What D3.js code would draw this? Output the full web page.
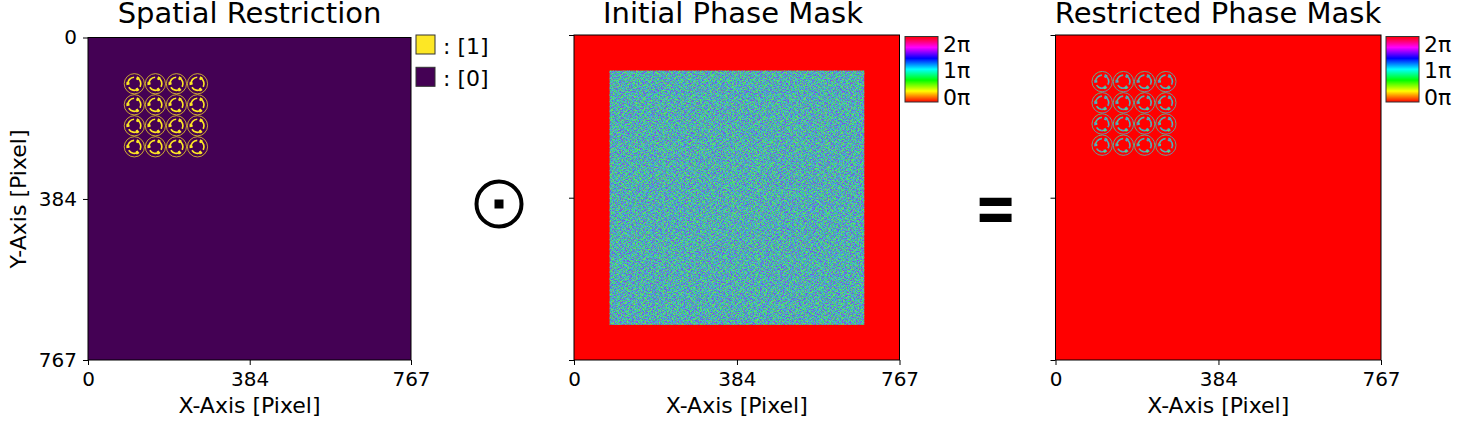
<!DOCTYPE html>
<html>
<head>
<meta charset="utf-8">
<script src="https://cdn.jsdelivr.net/npm/d3@7"></script>
<style>
  html, body { margin: 0; padding: 0; background: #fff; }
  svg { display: block; }
  text { font-family: "DejaVu Sans", sans-serif; fill: #000; }
</style>
</head>
<body>
<div id="chart"></div>
<script>
// axis ticks and labels
var tickValues = [0, 384, 767];
var titles = ["Spatial Restriction", "Initial Phase Mask", "Restricted Phase Mask"];
var legendLabels = [": [1]", ": [0]"];
var legendColors = ["#fde725", "#440154"];
var phaseLabels = ["2π", "1π", "0π"];
var phaseTicks = [6.28, 3.14, 0];

// hsv colormap stops, phase in radians
var phaseStops = [0, 1.05, 2.09, 3.14, 4.19, 5.24, 6.28];
var phaseColors = ["#ff0000", "#ffff00", "#00ff00", "#00ffff", "#0000ff", "#ff00ff", "#ff0000"];

// circle centres of the restriction, in mask pixels
var cellX = [110, 160, 210, 260];
var cellY = [110, 160, 210, 260];
var ringInner = 23;
var ringOuter = 25;

// the three curved arms in one circle (angles in degrees, clockwise from top)
var armStart = [25, 265, 145];
var armEnd = [118, 358, 238];
var armInner = [13.5, 13.5, 13.5];
var armOuter = [17.5, 17.5, 17.5];
var headStart = [20, 260, 140];
var headEnd = [44, 284, 164];
var headInner = [11.5, 11.5, 11.5];
var headOuter = [19, 19, 19];

// area of the mask holding the random phase, in mask pixels
var noiseRange = [84, 684];

// averaged colour of one screen pixel of the phase noise
var noisePalette = ["#3dd29a", "#45c8c0", "#4aa8d8", "#5a6fe0", "#8a55e0", "#3fdc6a", "#6be05a", "#4a9ce0", "#5ab8a0", "#45c090"];
// small swatch of the noise, each digit is one entry of noisePalette
var noiseTile = [
  "05539120774185530296417038865192",
  "31708846250193672251809943607415",
  "97220631584407719386025518324760",
  "40866193725530148047962631159028",
  "15392708016682943175308820476559",
  "78014453962217056894431567020383",
  "26659830147735281109675293846104",
  "53107246898160449322718054936677",
  "09942715360574816653290147288315",
  "64381059227793100468835726551940",
  "12576384049925637011294583370868",
  "88230961755014482736116049952307",
  "37495026183367095548820713649152",
  "50716842933106274419563278810445",
  "29164507788945312060347195526683",
  "76083319540627856613092884417250",
  "41957260116830495287751306629134",
  "03628794251174063395518640272986",
  "95310478662349127008464759133520",
  "68742105397720566934102885641037",
  "14089637525118873046259370986245",
  "32565081947643201579987412035668",
  "80917354216086432725130694758191",
  "47236916088375919460642318506027",
  "25601743395240167883794506129364",
  "91478025639962540318025177463850",
  "06351892147706285449316620958773",
  "73824569010437918260587943321146",
  "58190236774891343605169027640829",
  "19643307582560729174438256917035",
  "42975681306124085937012764583198",
  "60328417950379641825566031297474"
];
// second, sparser swatch laid over the first so that the repeat does not show
var noiseOverlay = [
  "7..3.9...4..72..3...8.4",
  "..5...2.7...9..6.3.....",
  ".4..8....3.5.....7..2.9",
  "3...6.7....1..4.9...5..",
  "..9.....2.8..6...3.7..4",
  "6..4.3...7....5.2....8.",
  "..7..5.9..3.4...8.3...6",
  ".2....4...6...9.....7..",
  "8..3.7...5..2.3..4...9.",
  "...9...6.3.8...7...1..5",
  ".7.2..4.....3.6.9..4...",
  "5....8..7.9...2...6..3.",
  "..3.6...4...7..5.9...7.",
  "9...2.5...3.6....3.8..4",
  ".4.7....9..2..8.....6..",
  "..8..3.6..7...4.2.9...3",
  "6...5...3....9...7..4..",
  ".3.9..7...4.5..3...6..8",
  "7...4....8.3..6.9.2....",
  "..2..6.3...7.....4..7.5",
  "4.7....9.5..3.8...3....",
  "...8.3..4...9..7.5..6.9",
  ".6..2...7.3...4....9..3"
];

// chart set up
var width = 1463;
var height = 430;
var fontSize = 20;
var labelSize = 22;

// screen position of each image
var panels = [
  { left: 88, right: 411, top: 37.5, bottom: 360, titleX: 249.5 },
  { left: 574, right: 899.5, top: 35, bottom: 360, titleX: 733 },
  { left: 1055.5, right: 1381, top: 35, bottom: 360, titleX: 1218 }
];

var svg = d3
  .select("#chart")
  .append("svg")
  .attr("width", width)
  .attr("height", height);

var defs = svg.append("defs");

// repeating swatch used for the noise square and the restricted shapes
function addTile(id, rows) {
  var size = rows.length;
  var pattern = defs
    .append("pattern")
    .attr("id", id)
    .attr("patternUnits", "userSpaceOnUse")
    .attr("width", size)
    .attr("height", size);
  rows.forEach(function(row, r) {
    row.split("").forEach(function(digit, c) {
      if (digit === ".") return;
      pattern
        .append("rect")
        .attr("x", c)
        .attr("y", r)
        .attr("width", 1)
        .attr("height", 1)
        .attr("shape-rendering", "crispEdges")
        .attr("fill", noisePalette[+digit]);
    });
  });
}
addTile("noise", noiseTile);
addTile("noiseTop", noiseOverlay);

// colorbar gradient from the phase stops
var phaseScale = d3.scaleLinear().domain(phaseStops).range(phaseColors);
var gradient = defs
  .append("linearGradient")
  .attr("id", "phaseBar")
  .attr("x1", 0)
  .attr("y1", 1)
  .attr("x2", 0)
  .attr("y2", 0);
phaseStops.forEach(function(p) {
  gradient
    .append("stop")
    .attr("offset", p / 6.28)
    .attr("stop-color", phaseScale(p));
});

var arc = d3.arc();

// draws the circles with their arms, filled with the given paint
function drawCells(g, xScale, yScale, paint, ringOpacity) {
  var length = d3.scaleLinear().domain([0, 767]).range([0, xScale(767) - xScale(0)]);
  cellY.forEach(function(cy) {
    cellX.forEach(function(cx) {
      var cell = g
        .append("g")
        .attr("transform", "translate(" + xScale(cx) + "," + yScale(cy) + ")")
        .attr("fill", paint);
      cell
        .append("circle")
        .attr("r", length((ringInner + ringOuter) / 2))
        .attr("fill", "none")
        .attr("stroke", paint)
        .attr("stroke-opacity", ringOpacity)
        .attr("stroke-width", length(ringOuter - ringInner));
      armStart.forEach(function(a, i) {
        cell.append("path").attr("d", arc({
          innerRadius: length(armInner[i]),
          outerRadius: length(armOuter[i]),
          startAngle: a * Math.PI / 180,
          endAngle: armEnd[i] * Math.PI / 180
        }));
        cell.append("path").attr("d", arc({
          innerRadius: length(headInner[i]),
          outerRadius: length(headOuter[i]),
          startAngle: headStart[i] * Math.PI / 180,
          endAngle: headEnd[i] * Math.PI / 180
        }));
      });
    });
  });
}

// a colorbar with its three phase labels
function drawColorbar(x0) {
  var barY = d3.scaleLinear().domain([0, 6.28]).range([102, 36.5]);
  svg
    .append("rect")
    .attr("x", x0)
    .attr("y", barY(6.28))
    .attr("width", 33)
    .attr("height", barY(0) - barY(6.28))
    .attr("fill", "url(#phaseBar)")
    .attr("stroke", "#333")
    .attr("stroke-width", 1);
  var labelY = d3.scaleLinear().domain([0, 6.28]).range([97, 44]);
  phaseLabels.forEach(function(label, i) {
    svg
      .append("text")
      .attr("x", x0 + 38)
      .attr("y", labelY(phaseTicks[i]))
      .attr("dy", "0.36em")
      .attr("font-size", labelSize + "px")
      .text(label);
  });
}

panels.forEach(function(p, i) {
  var xScale = d3.scaleLinear().domain([0, 767]).range([p.left, p.right]);
  var yScale = d3.scaleLinear().domain([0, 767]).range([p.top, p.bottom]);
  var g = svg.append("g");

  // the image itself
  g.append("rect")
    .attr("x", p.left)
    .attr("y", p.top)
    .attr("width", p.right - p.left)
    .attr("height", p.bottom - p.top)
    .attr("fill", i === 0 ? legendColors[1] : "#ff0000");

  if (i === 0) {
    drawCells(g, xScale, yScale, legendColors[0], 0.85);
  }
  if (i === 1) {
    ["url(#noise)", "url(#noiseTop)"].forEach(function(paint) {
      g.append("rect")
        .attr("x", xScale(noiseRange[0]))
        .attr("y", yScale(noiseRange[0]))
        .attr("width", xScale(noiseRange[1]) - xScale(noiseRange[0]))
        .attr("height", yScale(noiseRange[1]) - yScale(noiseRange[0]))
        .attr("fill", paint);
    });
  }
  if (i === 2) {
    drawCells(g, xScale, yScale, "url(#noise)", 1);
  }

  // axes
  var xAxis = d3.axisBottom(xScale).tickValues(tickValues).tickFormat(d3.format("d")).tickSize(5).tickPadding(7);
  var yAxis = d3.axisLeft(yScale).tickValues(tickValues).tickFormat(i === 0 ? d3.format("d") : "").tickSize(5).tickPadding(6);
  var xG = svg.append("g").attr("transform", "translate(0," + p.bottom + ")").call(xAxis);
  var yG = svg.append("g").attr("transform", "translate(" + p.left + ",0)").call(yAxis);
  [xG, yG].forEach(function(axisG) {
    axisG.select(".domain").remove();
    axisG.selectAll("text").attr("font-size", fontSize + "px").attr("font-family", "DejaVu Sans").attr("fill", "#000");
    axisG.selectAll("line").attr("stroke", "#000");
  });

  // frame
  svg
    .append("rect")
    .attr("x", p.left)
    .attr("y", p.top)
    .attr("width", p.right - p.left)
    .attr("height", p.bottom - p.top)
    .attr("fill", "none")
    .attr("stroke", "#000")
    .attr("stroke-width", 1);

  // title and x label
  svg
    .append("text")
    .attr("x", p.titleX)
    .attr("y", 23)
    .attr("text-anchor", "middle")
    .attr("font-size", "29px")
    .text(titles[i]);
  svg
    .append("text")
    .attr("x", (p.left + p.right) / 2)
    .attr("y", 413)
    .attr("text-anchor", "middle")
    .attr("font-size", labelSize + "px")
    .text("X-Axis [Pixel]");
});

// y label on the first image only
svg
  .append("text")
  .attr("transform", "translate(26,199)rotate(-90)")
  .attr("text-anchor", "middle")
  .attr("font-size", labelSize + "px")
  .text("Y-Axis [Pixel]");

// legend next to the first image
legendLabels.forEach(function(label, i) {
  var top = 35 + i * 32.3;
  svg
    .append("rect")
    .attr("x", 416)
    .attr("y", top)
    .attr("width", 19)
    .attr("height", 19)
    .attr("fill", legendColors[i])
    .attr("stroke", "#333")
    .attr("stroke-width", 1);
  svg
    .append("text")
    .attr("x", 443)
    .attr("y", top + 11)
    .attr("dy", "0.36em")
    .attr("font-size", labelSize + "px")
    .text(label);
});

drawColorbar(905);
drawColorbar(1386);

// operators between the images
svg
  .append("circle")
  .attr("cx", 499)
  .attr("cy", 204)
  .attr("r", 22.5)
  .attr("fill", "none")
  .attr("stroke", "#000")
  .attr("stroke-width", 4);
svg
  .append("rect")
  .attr("x", 494.5)
  .attr("y", 199.5)
  .attr("width", 9)
  .attr("height", 9)
  .attr("fill", "#000");
svg
  .append("text")
  .attr("transform", "translate(995.5,206)scale(0.85,1.2)")
  .attr("dy", "0.36em")
  .attr("text-anchor", "middle")
  .attr("font-size", "60px")
  .attr("font-weight", "bold")
  .text("=");
</script>
</body>
</html>
